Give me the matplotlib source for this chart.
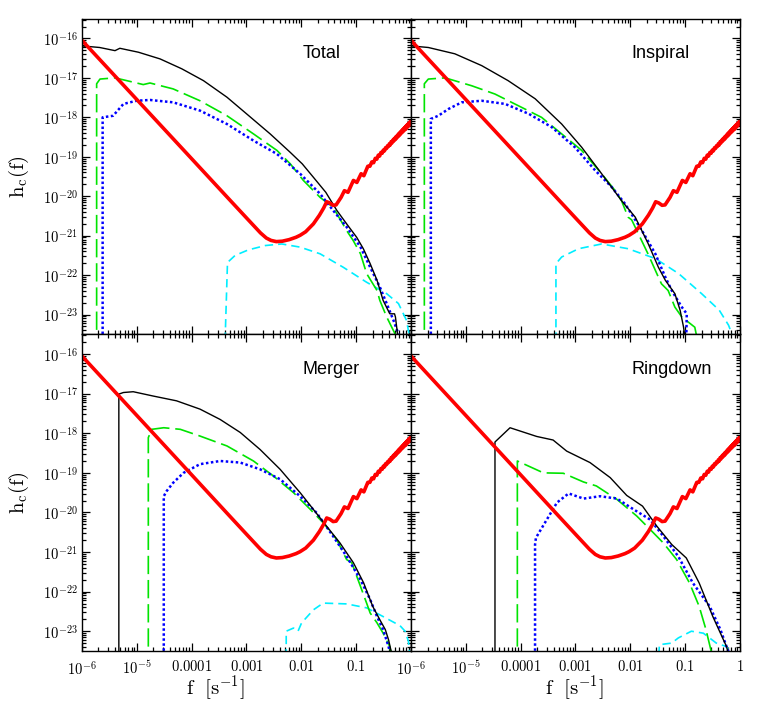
import numpy as np
import matplotlib.pyplot as plt
from matplotlib.ticker import FixedLocator, FixedFormatter, LogLocator, NullFormatter

plt.rcParams['mathtext.fontset'] = 'cm'
plt.rcParams['font.family'] = ['DejaVu Serif']

# sensitivity curve (red), log10 of h_c
sens_f = [1e-6, 1e-5, 1e-4, 5e-4, 1e-3, 1.8e-3, 2.3e-3, 2.8e-3, 3.5e-3, 4.5e-3, 6e-3, 8e-3, 0.0095, 0.012,
          0.0166, 0.0214, 0.0255, 0.029, 0.033, 0.038, 0.043, 0.053, 0.061, 0.071, 0.089, 0.103, 0.123, 0.138,
          0.163, 0.178, 0.193, 0.208, 0.223, 0.238, 0.253, 0.268, 0.283, 0.298, 0.313, 0.328,
          0.343, 0.358, 0.373, 0.388, 0.403, 0.418, 0.433, 0.448, 0.463, 0.478, 0.493, 0.508,
          0.523, 0.538, 0.553, 0.568, 0.583, 0.598, 0.613, 0.628, 0.643, 0.658, 0.673, 0.688,
          0.703, 0.718, 0.733, 0.748, 0.763, 0.778, 0.793, 0.808, 0.823, 0.838, 0.853, 0.868,
          0.883, 0.898, 0.913, 0.928, 0.943, 0.958, 0.973, 0.988, 1.0]
sens_h = [-16.05, -17.55, -19.05, -20.1, -20.55, -20.93, -21.06, -21.12, -21.15, -21.14, -21.1, -21.04, -20.99, -20.9,
          -20.7, -20.48, -20.3, -20.14, -20.17, -20.23, -20.22, -20.03, -19.86, -19.90, -19.60, -19.65, -19.43, -19.48,
          -19.24, -19.24, -19.13, -19.15, -19.04, -19.06, -18.96, -18.98, -18.89, -18.91, -18.83, -18.85,
          -18.77, -18.79, -18.72, -18.74, -18.67, -18.70, -18.62, -18.65, -18.58, -18.61, -18.54, -18.57,
          -18.50, -18.54, -18.47, -18.50, -18.43, -18.47, -18.40, -18.44, -18.37, -18.41, -18.34, -18.38,
          -18.31, -18.36, -18.29, -18.33, -18.26, -18.31, -18.24, -18.29, -18.21, -18.26, -18.19, -18.24,
          -18.17, -18.22, -18.15, -18.20, -18.13, -18.18, -18.11, -18.16, -18.12]

# Total
total_black_f = [1e-6, 2.1e-6, 4e-6, 4.9e-6, 1.07e-5, 2.66e-5, 6.6e-5, 1.64e-4, 4.4e-4, 1.0e-3, 2.7e-3,
                 6.3e-3, 0.0104, 0.0166, 0.0279, 0.0444, 0.067, 0.102, 0.135, 0.18, 0.24, 0.31, 0.41,
                 0.5, 0.52, 0.58]
total_black_h = [-16.19, -16.23, -16.31, -16.25, -16.35, -16.52, -16.77, -17.07, -17.49, -17.91, -18.42,
                 -18.89, -19.18, -19.52, -19.90, -20.36, -20.70, -21.04, -21.33, -21.71, -22.13, -22.64, -22.98,
                 -22.98, -23.06, -23.6]
total_green_f = [1.85e-6, 1.85e-6, 2.13e-6, 4e-6, 5.7e-6, 1.31e-5, 1.74e-5, 4.6e-5, 1.42e-4, 4.4e-4, 1.34e-3,
                 3.6e-3, 6.3e-3, 0.0109, 0.022, 0.038, 0.067, 0.088, 0.12, 0.155, 0.24, 0.27, 0.36, 0.56]
total_green_h = [-24, -17.15, -17.03, -17.0, -17.05, -17.17, -17.13, -17.28, -17.58, -17.96, -18.42,
                 -18.84, -19.18, -19.60, -20.03, -20.28, -20.87, -21.12, -21.46, -21.96, -22.39, -22.64, -23.06, -23.6]
total_blue_f = [2.38e-6, 2.38e-6, 3.7e-6, 5.7e-6, 9.9e-6, 1.74e-5, 4.6e-5, 1.42e-4, 4.4e-4, 1.34e-3, 3.6e-3,
                9.5e-3, 0.022, 0.038, 0.067, 0.12, 0.18, 0.27, 0.36, 0.48, 0.63]
total_blue_h = [-24, -18.0, -17.96, -17.66, -17.58, -17.56, -17.62, -17.83, -18.17, -18.59, -18.93,
                -19.43, -19.94, -20.36, -20.78, -21.29, -21.80, -22.30, -22.72, -23.15, -23.6]
total_cyan_f = [4.0e-4, 4.5e-4, 6.2e-4, 1.08e-3, 2.2e-3, 4.4e-3, 9.5e-3, 0.022, 0.058, 0.155, 0.36, 0.59,
                0.83, 0.95]
total_cyan_h = [-24, -21.68, -21.5, -21.36, -21.25, -21.21, -21.29, -21.46, -21.80, -22.18, -22.47, -22.72,
                -23.15, -23.6]

# Inspiral
insp_black_f = [1e-6, 2.07e-6, 6.3e-6, 1.95e-5, 5.9e-5, 1.84e-4, 5.6e-4, 1.3e-3, 3.0e-3, 6.9e-3, 0.0123,
                0.0213, 0.0325, 0.0435, 0.065, 0.081, 0.093, 0.1]
insp_black_h = [-16.19, -16.23, -16.39, -16.69, -17.07, -17.53, -18.17, -18.76, -19.43, -20.11, -20.53,
                -21.21, -21.80, -22.13, -22.47, -22.89, -23.3, -23.6]
insp_green_f = [1.75e-6, 1.75e-6, 2.07e-6, 4.2e-6, 1.28e-5, 3.4e-5, 1.05e-4, 2.4e-4, 5.6e-4, 1.3e-3, 3.0e-3,
                5.3e-3, 6.9e-3, 9.1e-3, 0.0106, 0.014, 0.021, 0.0325, 0.037, 0.049, 0.065, 0.087, 0.15, 0.165]
insp_green_h = [-24, -17.15, -17.03, -17.0, -17.20, -17.41, -17.75, -18.0, -18.42, -18.84, -19.43,
                -19.86, -20.11, -20.53, -20.6, -20.95, -21.46, -22.05, -22.22, -22.39, -22.81, -23.06, -23.32, -23.6]
insp_blue_f = [2.3e-6, 2.3e-6, 3.15e-6, 4.8e-6, 8.4e-6, 1.95e-5, 5.2e-5, 1.4e-4, 3.7e-4, 9.8e-4, 2.3e-3,
               4.6e-3, 8.0e-3, 0.0163, 0.0286, 0.0435, 0.057, 0.087, 0.107, 0.105]
insp_blue_h = [-24, -18.04, -17.96, -17.79, -17.62, -17.58, -17.66, -17.91, -18.25, -18.76, -19.35,
               -19.77, -20.19, -20.87, -21.46, -22.05, -22.39, -22.81, -22.98, -23.6]
insp_cyan_f = [4.4e-4, 4.4e-4, 5.6e-4, 1.14e-3, 3.0e-3, 9.1e-3, 0.0286, 0.076, 0.2, 0.42, 0.62, 0.76]
insp_cyan_h = [-24, -21.71, -21.54, -21.33, -21.21, -21.33, -21.58, -21.96, -22.47, -22.89, -23.27, -23.6]

# Merger
mer_black_f = [4.7e-6, 4.7e-6, 5.7e-6, 8.6e-6, 2.0e-5, 5.3e-5, 1.42e-4, 3.3e-4, 7.7e-4, 1.77e-3, 4.1e-3,
               9.5e-3, 0.0165, 0.029, 0.0506, 0.089, 0.137, 0.2, 0.27, 0.34, 0.39, 0.45]
mer_black_h = [-24, -17.01, -16.97, -16.95, -17.06, -17.18, -17.39, -17.65, -17.98, -18.41, -18.91,
               -19.50, -19.92, -20.35, -20.77, -21.27, -21.78, -22.37, -22.71, -22.96, -23.22, -23.6]
mer_green_f = [1.62e-5, 1.62e-5, 1.87e-5, 3.1e-5, 6.2e-5, 1.42e-4, 4.4e-4, 1.34e-3, 3.1e-3, 7.2e-3, 0.0145,
               0.025, 0.044, 0.067, 0.083, 0.12, 0.155, 0.18, 0.24, 0.31, 0.41, 0.44]
mer_green_h = [-24, -18.11, -17.90, -17.86, -17.90, -18.07, -18.32, -18.70, -19.08, -19.50, -19.92,
               -20.26, -20.68, -21.19, -21.27, -21.87, -22.29, -22.54, -22.79, -23.05, -23.39, -23.6]
mer_blue_f = [3.1e-5, 3.1e-5, 3.5e-5, 4.6e-5, 7.1e-5, 1.42e-4, 3.3e-4, 7.7e-4, 1.77e-3, 4.1e-3, 9.5e-3,
              0.019, 0.038, 0.067, 0.12, 0.18, 0.24, 0.31, 0.39, 0.42]
mer_blue_h = [-24, -19.59, -19.46, -19.25, -19.0, -18.78, -18.70, -18.74, -18.91, -19.16, -19.59,
              -20.01, -20.60, -21.11, -21.70, -22.20, -22.63, -22.96, -23.39, -23.6]
mer_cyan_f = [5.3e-3, 5.3e-3, 7.2e-3, 8.7e-3, 0.0101, 0.0166, 0.025, 0.067, 0.155, 0.31, 0.63, 0.78, 0.9, 0.95]
mer_cyan_h = [-24, -23.0, -22.92, -23.0, -22.79, -22.46, -22.29, -22.31, -22.41, -22.63, -22.86, -23.0,
              -23.26, -23.6]

# Ringdown
ring_black_f = [3.4e-5, 3.4e-5, 6.4e-5, 1.96e-4, 3.9e-4, 6.9e-4, 1.84e-3, 4.3e-3, 8.6e-3, 0.0167, 0.0306,
                0.057, 0.105, 0.18, 0.32, 0.57, 0.62]
ring_black_h = [-24, -18.22, -17.86, -18.08, -18.17, -18.45, -18.74, -19.12, -19.57, -19.84, -20.35,
                -20.81, -21.15, -21.78, -22.63, -23.39, -23.6]
ring_green_f = [8.7e-5, 8.7e-5, 2.6e-4, 6.0e-4, 1.4e-3, 2.4e-3, 5.7e-3, 0.0131, 0.023, 0.040, 0.070, 0.12,
                0.18, 0.24, 0.31]
ring_green_h = [-24, -18.70, -19.0, -19.01, -19.23, -19.33, -19.67, -20.09, -20.43, -20.77, -21.19, -21.78,
                -22.37, -22.96, -23.6]
ring_blue_f = [1.83e-4, 1.83e-4, 1.9e-4, 3.0e-4, 4.6e-4, 7.5e-4, 1.4e-3, 2.8e-3, 5.7e-3, 0.0114, 0.023,
               0.040, 0.075, 0.138, 0.28, 0.44, 0.57, 0.65]
ring_blue_h = [-24, -20.81, -20.64, -20.18, -19.75, -19.52, -19.65, -19.59, -19.65, -19.92, -20.18,
               -20.60, -21.11, -21.78, -22.37, -22.96, -23.39, -23.6]
ring_cyan_f = [0.033, 0.034, 0.057, 0.075, 0.13, 0.215, 0.37, 0.57, 0.7]
ring_cyan_h = [-23.6, -23.34, -23.30, -23.17, -23.0, -23.05, -23.30, -23.39, -23.6]

panel_names = ['Total', 'Inspiral', 'Merger', 'Ringdown']
panel_data = [
    (total_black_f, total_black_h, total_green_f, total_green_h, total_blue_f, total_blue_h, total_cyan_f, total_cyan_h),
    (insp_black_f, insp_black_h, insp_green_f, insp_green_h, insp_blue_f, insp_blue_h, insp_cyan_f, insp_cyan_h),
    (mer_black_f, mer_black_h, mer_green_f, mer_green_h, mer_blue_f, mer_blue_h, mer_cyan_f, mer_cyan_h),
    (ring_black_f, ring_black_h, ring_green_f, ring_green_h, ring_blue_f, ring_blue_h, ring_cyan_f, ring_cyan_h),
]

xticks = [1e-6, 1e-5, 1e-4, 1e-3, 1e-2, 1e-1, 1.0]
xticklabels = [r'$10^{-6}$', r'$10^{-5}$', r'$0.0001$', r'$0.001$', r'$0.01$', r'$0.1$', r'$1$']
yticks = [1e-23, 1e-22, 1e-21, 1e-20, 1e-19, 1e-18, 1e-17, 1e-16]
yticklabels = [r'$10^{-23}$', r'$10^{-22}$', r'$10^{-21}$', r'$10^{-20}$',
               r'$10^{-19}$', r'$10^{-18}$', r'$10^{-17}$', r'$10^{-16}$']

fig = plt.figure(figsize=(7.72, 7.08), dpi=100)
x0, xm, x1 = 0.1062, 0.5324, 0.9585
y0, ym, y1 = 0.0805, 0.5278, 0.9736
boxes = [[x0, ym, xm - x0, y1 - ym], [xm, ym, x1 - xm, y1 - ym],
         [x0, y0, xm - x0, ym - y0], [xm, y0, x1 - xm, ym - y0]]

for i in range(4):
    ax = fig.add_axes(boxes[i])
    bf, bh, gf, gh, uf, uh, cf, ch = panel_data[i]
    ax.plot(cf, 10**np.array(ch), color='#00eeff', lw=1.2, dashes=(5, 3))
    ax.plot(gf, 10**np.array(gh), color='#00e400', lw=1.2, dashes=(11, 3.5))
    ax.plot(uf, 10**np.array(uh), color='#0000ff', lw=1.8, dashes=(1, 1))
    ax.plot(bf, 10**np.array(bh), color='black', lw=1.0)
    ax.plot(sens_f, 10**np.array(sens_h), color='#ff0000', lw=2.6, solid_joinstyle='round')
    ax.set_xscale('log')
    ax.set_yscale('log')
    ax.set_xlim(1e-6, 1.0)
    ax.set_ylim(10**-23.5, 10**-15.5)

    ax.xaxis.set_major_locator(FixedLocator(xticks))
    ax.yaxis.set_major_locator(FixedLocator(yticks))
    ax.xaxis.set_minor_locator(LogLocator(base=10, subs=np.arange(2, 10), numticks=20))
    ax.yaxis.set_minor_locator(LogLocator(base=10, subs=np.arange(2, 10), numticks=20))
    ax.xaxis.set_minor_formatter(NullFormatter())
    ax.yaxis.set_minor_formatter(NullFormatter())
    if i >= 2:
        labs = list(xticklabels)
        if i == 2:
            labs[-1] = ''
        ax.xaxis.set_major_formatter(FixedFormatter(labs))
    else:
        ax.xaxis.set_major_formatter(NullFormatter())
    if i % 2 == 0:
        ax.yaxis.set_major_formatter(FixedFormatter(yticklabels))
    else:
        ax.yaxis.set_major_formatter(NullFormatter())
    ax.tick_params(which='both', direction='in', top=True, right=True, labelsize=10.5, width=0.9)
    ax.tick_params(which='major', length=6)
    ax.tick_params(which='minor', length=3.2)
    ax.tick_params(axis='x', pad=6)
    ax.tick_params(axis='y', pad=3)
    for s in ax.spines.values():
        s.set_linewidth(1.0)

    ax.text(0.67, 0.874, panel_names[i], transform=ax.transAxes, fontsize=13,
            family='Liberation Sans', ha='left', va='baseline')

# axis labels
for yc in [(ym + y1) / 2, (y0 + ym) / 2]:
    fig.text(0.025, yc, r'$\mathrm{h_c(f)}$', rotation=90, fontsize=15, ha='center', va='center')
fig.text(0.2785, 0.028, r'$\mathrm{f\ \ [s^{-1}]}$', fontsize=15, ha='center', va='center')
fig.text(0.7435, 0.028, r'$\mathrm{f\ \ [s^{-1}]}$', fontsize=15, ha='center', va='center')

fig.savefig('out.png', dpi=100)
